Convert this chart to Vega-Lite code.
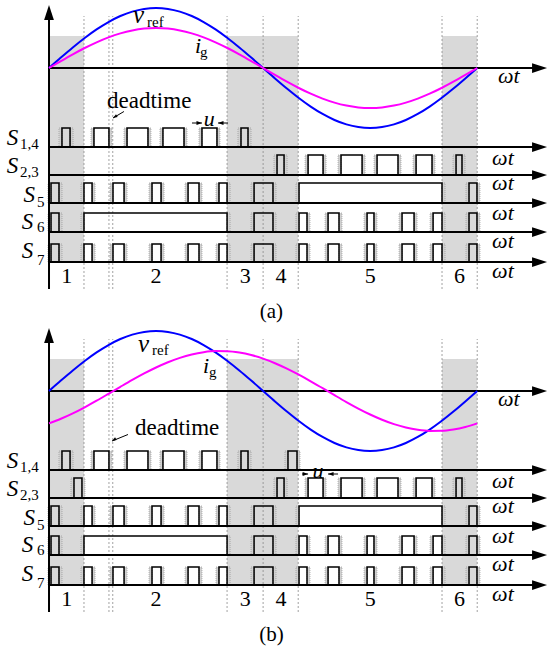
{
"$schema":"https://vega.github.io/schema/vega-lite/v6.json",
"padding":0,"spacing":0,"bounds":"flush",
"background":"white",
"config":{"view":{"stroke":null},"font":"Liberation Serif","text":{"font":"Liberation Serif"}},
"data":{"values":[
{"k":"gray","p":["a","b"],"t0":0,"t1":29.4,"v0":-194,"v1":32},
{"k":"gray","p":["a","b"],"t0":149.7,"t1":209.5,"v0":-194,"v1":32},
{"k":"gray","p":["a","b"],"t0":330.4,"t1":360,"v0":-194,"v1":32},
{"k":"dot","p":["a","b"],"t0":29.4,"v0":-221,"v1":52},
{"k":"dot","p":["a","b"],"t0":50.4,"v0":-221,"v1":52},
{"k":"dot","p":["a","b"],"t0":53.6,"v0":-221,"v1":52},
{"k":"dot","p":["a","b"],"t0":149.7,"v0":-221,"v1":52},
{"k":"dot","p":["a","b"],"t0":180,"v0":-221,"v1":52},
{"k":"dot","p":["a","b"],"t0":209.5,"v0":-221,"v1":52},
{"k":"dot","p":["a","b"],"t0":330.4,"v0":-221,"v1":52},
{"k":"dot","p":["a","b"],"t0":360,"v0":-221,"v1":52},
{"k":"pulse","p":["a","b"],"s":"S14","t0":10.9,"t1":17.7},
{"k":"pulse","p":["a","b"],"s":"S14","t0":37.8,"t1":50.4},
{"k":"pulse","p":["a","b"],"s":"S14","t0":65.6,"t1":83.2},
{"k":"pulse","p":["a","b"],"s":"S14","t0":95.8,"t1":113.5},
{"k":"pulse","p":["a","b"],"s":"S14","t0":128.6,"t1":141.2},
{"k":"pulse","p":["a","b"],"s":"S14","t0":161.4,"t1":167.3},
{"k":"pulse","p":["b"],"s":"S14","t0":200.9,"t1":208.5},
{"k":"pulse","p":["b"],"s":"S23","t0":21.0,"t1":27.7},
{"k":"pulse","p":["a","b"],"s":"S23","t0":191.7,"t1":197.6},
{"k":"pulse","p":["a","b"],"s":"S23","t0":217.8,"t1":230.4},
{"k":"pulse","p":["a","b"],"s":"S23","t0":245.5,"t1":263.2},
{"k":"pulse","p":["a","b"],"s":"S23","t0":275.8,"t1":293.4},
{"k":"pulse","p":["a","b"],"s":"S23","t0":308.6,"t1":322.0},
{"k":"pulse","p":["a","b"],"s":"S23","t0":342.2,"t1":347.2},
{"k":"pulse","p":["a","b"],"s":"S5","t0":1.7,"t1":8.4},
{"k":"pulse","p":["a","b"],"s":"S5","t0":29.4,"t1":36.2},
{"k":"pulse","p":["a","b"],"s":"S5","t0":53.8,"t1":63.1},
{"k":"pulse","p":["a","b"],"s":"S5","t0":86.6,"t1":94.2},
{"k":"pulse","p":["a","b"],"s":"S5","t0":116.9,"t1":126.1},
{"k":"pulse","p":["a","b"],"s":"S5","t0":142.9,"t1":149.7},
{"k":"pulse","p":["a","b"],"s":"S5","t0":172.4,"t1":188.3},
{"k":"pulse","p":["a","b"],"s":"S5","t0":210.2,"t1":330.4},
{"k":"pulse","p":["a","b"],"s":"S5","t0":353.1,"t1":359.8},
{"k":"pulse","p":["a","b"],"s":"S6","t0":1.7,"t1":8.4},
{"k":"pulse","p":["a","b"],"s":"S6","t0":29.4,"t1":149.7},
{"k":"pulse","p":["a","b"],"s":"S6","t0":172.4,"t1":188.3},
{"k":"pulse","p":["a","b"],"s":"S6","t0":210.2,"t1":216.9},
{"k":"pulse","p":["a","b"],"s":"S6","t0":234.6,"t1":243.8},
{"k":"pulse","p":["a","b"],"s":"S6","t0":267.4,"t1":273.2},
{"k":"pulse","p":["a","b"],"s":"S6","t0":296.8,"t1":306.9},
{"k":"pulse","p":["a","b"],"s":"S6","t0":322.9,"t1":330.4},
{"k":"pulse","p":["a","b"],"s":"S6","t0":353.1,"t1":359.8},
{"k":"pulse","p":["a","b"],"s":"S7","t0":1.7,"t1":8.4},
{"k":"pulse","p":["a","b"],"s":"S7","t0":29.4,"t1":36.2},
{"k":"pulse","p":["a","b"],"s":"S7","t0":53.8,"t1":63.1},
{"k":"pulse","p":["a","b"],"s":"S7","t0":86.6,"t1":94.2},
{"k":"pulse","p":["a","b"],"s":"S7","t0":116.9,"t1":126.1},
{"k":"pulse","p":["a","b"],"s":"S7","t0":142.9,"t1":149.7},
{"k":"pulse","p":["a","b"],"s":"S7","t0":172.4,"t1":188.3},
{"k":"pulse","p":["a","b"],"s":"S7","t0":210.2,"t1":216.9},
{"k":"pulse","p":["a","b"],"s":"S7","t0":234.6,"t1":243.8},
{"k":"pulse","p":["a","b"],"s":"S7","t0":267.4,"t1":273.2},
{"k":"pulse","p":["a","b"],"s":"S7","t0":296.8,"t1":306.9},
{"k":"pulse","p":["a","b"],"s":"S7","t0":322.9,"t1":330.4},
{"k":"pulse","p":["a","b"],"s":"S7","t0":353.1,"t1":359.8},
{"k":"ax","p":["a","b"],"t0":0,"t1":0,"v0":-221,"v1":55},
{"k":"ax","p":["a","b"],"t0":0,"t1":412,"v0":0,"v1":0},
{"k":"ax","p":["a","b"],"t0":0,"t1":412,"v0":-79,"v1":-79},
{"k":"ax","p":["a","b"],"t0":0,"t1":412,"v0":-107,"v1":-107},
{"k":"ax","p":["a","b"],"t0":0,"t1":412,"v0":-135,"v1":-135},
{"k":"ax","p":["a","b"],"t0":0,"t1":412,"v0":-164,"v1":-164},
{"k":"ax","p":["a","b"],"t0":0,"t1":412,"v0":-194,"v1":-194},
{"k":"thin","p":["a"],"t0":63.0,"t1":53.8,"v0":-43.5,"v1":-50},
{"k":"thin","p":["b"],"t0":66.4,"t1":53.0,"v0":-43.5,"v1":-50},
{"k":"thin","p":["a"],"t0":120.2,"t1":128.6,"v0":-55,"v1":-55},
{"k":"thin","p":["a"],"t0":150.5,"t1":142.1,"v0":-55,"v1":-55},
{"k":"thin","p":["b"],"t0":212.7,"t1":217.8,"v0":-83,"v1":-83},
{"k":"thin","p":["b"],"t0":243.0,"t1":234.6,"v0":-83,"v1":-83},
{"k":"arr","p":["a","b"],"d":"U","t":0,"v":63},
{"k":"arr","p":["a","b"],"d":"R","t":418.7,"v":0},
{"k":"arr","p":["a","b"],"d":"R","t":418.7,"v":-79},
{"k":"arr","p":["a","b"],"d":"R","t":418.7,"v":-107},
{"k":"arr","p":["a","b"],"d":"R","t":418.7,"v":-135},
{"k":"arr","p":["a","b"],"d":"R","t":418.7,"v":-164},
{"k":"arr","p":["a","b"],"d":"R","t":418.7,"v":-194},
{"k":"arr","p":["a"],"d":"DL","t":53.8,"v":-50},
{"k":"arr","p":["b"],"d":"DL","t":53.0,"v":-50},
{"k":"arr","p":["a"],"d":"Rs","t":128.6,"v":-55},
{"k":"arr","p":["a"],"d":"Ls","t":142.1,"v":-55},
{"k":"arr","p":["b"],"d":"Rs","t":217.8,"v":-83},
{"k":"arr","p":["b"],"d":"Ls","t":234.6,"v":-83},
{"k":"c","p":["a","b"],"s":"vref","t":0,"v":0},{"k":"c","p":["a","b"],"s":"vref","t":10,"v":10.42},{"k":"c","p":["a","b"],"s":"vref","t":20,"v":20.52},{"k":"c","p":["a","b"],"s":"vref","t":30,"v":30},{"k":"c","p":["a","b"],"s":"vref","t":40,"v":38.57},{"k":"c","p":["a","b"],"s":"vref","t":50,"v":45.96},{"k":"c","p":["a","b"],"s":"vref","t":60,"v":51.96},{"k":"c","p":["a","b"],"s":"vref","t":70,"v":56.38},{"k":"c","p":["a","b"],"s":"vref","t":80,"v":59.09},{"k":"c","p":["a","b"],"s":"vref","t":90,"v":60},{"k":"c","p":["a","b"],"s":"vref","t":100,"v":59.09},{"k":"c","p":["a","b"],"s":"vref","t":110,"v":56.38},{"k":"c","p":["a","b"],"s":"vref","t":120,"v":51.96},{"k":"c","p":["a","b"],"s":"vref","t":130,"v":45.96},{"k":"c","p":["a","b"],"s":"vref","t":140,"v":38.57},{"k":"c","p":["a","b"],"s":"vref","t":150,"v":30},{"k":"c","p":["a","b"],"s":"vref","t":160,"v":20.52},{"k":"c","p":["a","b"],"s":"vref","t":170,"v":10.42},{"k":"c","p":["a","b"],"s":"vref","t":180,"v":0},{"k":"c","p":["a","b"],"s":"vref","t":190,"v":-10.42},{"k":"c","p":["a","b"],"s":"vref","t":200,"v":-20.52},{"k":"c","p":["a","b"],"s":"vref","t":210,"v":-30},{"k":"c","p":["a","b"],"s":"vref","t":220,"v":-38.57},{"k":"c","p":["a","b"],"s":"vref","t":230,"v":-45.96},{"k":"c","p":["a","b"],"s":"vref","t":240,"v":-51.96},{"k":"c","p":["a","b"],"s":"vref","t":250,"v":-56.38},{"k":"c","p":["a","b"],"s":"vref","t":260,"v":-59.09},{"k":"c","p":["a","b"],"s":"vref","t":270,"v":-60},{"k":"c","p":["a","b"],"s":"vref","t":280,"v":-59.09},{"k":"c","p":["a","b"],"s":"vref","t":290,"v":-56.38},{"k":"c","p":["a","b"],"s":"vref","t":300,"v":-51.96},{"k":"c","p":["a","b"],"s":"vref","t":310,"v":-45.96},{"k":"c","p":["a","b"],"s":"vref","t":320,"v":-38.57},{"k":"c","p":["a","b"],"s":"vref","t":330,"v":-30},{"k":"c","p":["a","b"],"s":"vref","t":340,"v":-20.52},{"k":"c","p":["a","b"],"s":"vref","t":350,"v":-10.42},{"k":"c","p":["a","b"],"s":"vref","t":360,"v":0},
{"k":"c","p":["a"],"s":"ig","t":0,"v":0},{"k":"c","p":["a"],"s":"ig","t":10,"v":6.95},{"k":"c","p":["a"],"s":"ig","t":20,"v":13.68},{"k":"c","p":["a"],"s":"ig","t":30,"v":20},{"k":"c","p":["a"],"s":"ig","t":40,"v":25.71},{"k":"c","p":["a"],"s":"ig","t":50,"v":30.64},{"k":"c","p":["a"],"s":"ig","t":60,"v":34.64},{"k":"c","p":["a"],"s":"ig","t":70,"v":37.59},{"k":"c","p":["a"],"s":"ig","t":80,"v":39.39},{"k":"c","p":["a"],"s":"ig","t":90,"v":40},{"k":"c","p":["a"],"s":"ig","t":100,"v":39.39},{"k":"c","p":["a"],"s":"ig","t":110,"v":37.59},{"k":"c","p":["a"],"s":"ig","t":120,"v":34.64},{"k":"c","p":["a"],"s":"ig","t":130,"v":30.64},{"k":"c","p":["a"],"s":"ig","t":140,"v":25.71},{"k":"c","p":["a"],"s":"ig","t":150,"v":20},{"k":"c","p":["a"],"s":"ig","t":160,"v":13.68},{"k":"c","p":["a"],"s":"ig","t":170,"v":6.95},{"k":"c","p":["a"],"s":"ig","t":180,"v":0},{"k":"c","p":["a"],"s":"ig","t":190,"v":-6.95},{"k":"c","p":["a"],"s":"ig","t":200,"v":-13.68},{"k":"c","p":["a"],"s":"ig","t":210,"v":-20},{"k":"c","p":["a"],"s":"ig","t":220,"v":-25.71},{"k":"c","p":["a"],"s":"ig","t":230,"v":-30.64},{"k":"c","p":["a"],"s":"ig","t":240,"v":-34.64},{"k":"c","p":["a"],"s":"ig","t":250,"v":-37.59},{"k":"c","p":["a"],"s":"ig","t":260,"v":-39.39},{"k":"c","p":["a"],"s":"ig","t":270,"v":-40},{"k":"c","p":["a"],"s":"ig","t":280,"v":-39.39},{"k":"c","p":["a"],"s":"ig","t":290,"v":-37.59},{"k":"c","p":["a"],"s":"ig","t":300,"v":-34.64},{"k":"c","p":["a"],"s":"ig","t":310,"v":-30.64},{"k":"c","p":["a"],"s":"ig","t":320,"v":-25.71},{"k":"c","p":["a"],"s":"ig","t":330,"v":-20},{"k":"c","p":["a"],"s":"ig","t":340,"v":-13.68},{"k":"c","p":["a"],"s":"ig","t":350,"v":-6.95},{"k":"c","p":["a"],"s":"ig","t":360,"v":0},
{"k":"c","p":["b"],"s":"ig","t":0,"v":-32.36},{"k":"c","p":["b"],"s":"ig","t":10,"v":-27.79},{"k":"c","p":["b"],"s":"ig","t":20,"v":-22.37},{"k":"c","p":["b"],"s":"ig","t":30,"v":-16.27},{"k":"c","p":["b"],"s":"ig","t":40,"v":-9.68},{"k":"c","p":["b"],"s":"ig","t":50,"v":-2.79},{"k":"c","p":["b"],"s":"ig","t":60,"v":4.18},{"k":"c","p":["b"],"s":"ig","t":70,"v":11.03},{"k":"c","p":["b"],"s":"ig","t":80,"v":17.54},{"k":"c","p":["b"],"s":"ig","t":90,"v":23.51},{"k":"c","p":["b"],"s":"ig","t":100,"v":28.77},{"k":"c","p":["b"],"s":"ig","t":110,"v":33.16},{"k":"c","p":["b"],"s":"ig","t":120,"v":36.54},{"k":"c","p":["b"],"s":"ig","t":130,"v":38.81},{"k":"c","p":["b"],"s":"ig","t":140,"v":39.9},{"k":"c","p":["b"],"s":"ig","t":150,"v":39.78},{"k":"c","p":["b"],"s":"ig","t":160,"v":38.45},{"k":"c","p":["b"],"s":"ig","t":170,"v":35.95},{"k":"c","p":["b"],"s":"ig","t":180,"v":32.36},{"k":"c","p":["b"],"s":"ig","t":190,"v":27.79},{"k":"c","p":["b"],"s":"ig","t":200,"v":22.37},{"k":"c","p":["b"],"s":"ig","t":210,"v":16.27},{"k":"c","p":["b"],"s":"ig","t":220,"v":9.68},{"k":"c","p":["b"],"s":"ig","t":230,"v":2.79},{"k":"c","p":["b"],"s":"ig","t":240,"v":-4.18},{"k":"c","p":["b"],"s":"ig","t":250,"v":-11.03},{"k":"c","p":["b"],"s":"ig","t":260,"v":-17.54},{"k":"c","p":["b"],"s":"ig","t":270,"v":-23.51},{"k":"c","p":["b"],"s":"ig","t":280,"v":-28.77},{"k":"c","p":["b"],"s":"ig","t":290,"v":-33.16},{"k":"c","p":["b"],"s":"ig","t":300,"v":-36.54},{"k":"c","p":["b"],"s":"ig","t":310,"v":-38.81},{"k":"c","p":["b"],"s":"ig","t":320,"v":-39.9},{"k":"c","p":["b"],"s":"ig","t":330,"v":-39.78},{"k":"c","p":["b"],"s":"ig","t":340,"v":-38.45},{"k":"c","p":["b"],"s":"ig","t":350,"v":-35.95},{"k":"c","p":["b"],"s":"ig","t":360,"v":-32.36},
{"k":"ti","p":["a","b"],"r":"S","txt":"S","t":-35.5,"v":-77},
{"k":"ti","p":["a","b"],"r":"S","txt":"S","t":-35.5,"v":-105},
{"k":"ti","p":["a","b"],"r":"S","txt":"S","t":-21.5,"v":-134},
{"k":"ti","p":["a","b"],"r":"S","txt":"S","t":-23,"v":-161},
{"k":"ti","p":["a","b"],"r":"S","txt":"S","t":-23,"v":-190},
{"k":"ti","p":["a","b"],"r":"wt","txt":"ωt","t":377.5,"v":-15},
{"k":"ti","p":["a","b"],"r":"wt","txt":"ωt","t":372.5,"v":-97},
{"k":"ti","p":["a","b"],"r":"wt","txt":"ωt","t":372.5,"v":-122},
{"k":"ti","p":["a","b"],"r":"wt","txt":"ωt","t":372.5,"v":-152},
{"k":"ti","p":["a","b"],"r":"wt","txt":"ωt","t":372.5,"v":-180},
{"k":"ti","p":["a","b"],"r":"wt","txt":"ωt","t":372.5,"v":-210},
{"k":"ti","p":["a"],"r":"v","txt":"v","t":70.6,"v":45},
{"k":"ti","p":["a"],"r":"i","txt":"i","t":122.7,"v":15},
{"k":"ti","p":["a"],"r":"i","txt":"u","t":130,"v":-58},
{"k":"ti","p":["b"],"r":"v","txt":"v","t":74.8,"v":39},
{"k":"ti","p":["b"],"r":"i","txt":"i","t":129.5,"v":18},
{"k":"ti","p":["b"],"r":"i","txt":"u","t":221.5,"v":-87},
{"k":"tu","p":["a","b"],"r":"sub","txt":"1,4","t":-24.4,"v":-81},
{"k":"tu","p":["a","b"],"r":"sub","txt":"2,3","t":-24.4,"v":-109},
{"k":"tu","p":["a","b"],"r":"sub","txt":"5","t":-10.1,"v":-139},
{"k":"tu","p":["a","b"],"r":"sub","txt":"6","t":-10.1,"v":-164},
{"k":"tu","p":["a","b"],"r":"sub","txt":"7","t":-10.1,"v":-197},
{"k":"tu","p":["a"],"r":"sub","txt":"ref","t":82.4,"v":41},
{"k":"tu","p":["a"],"r":"sub","txt":"g","t":127,"v":11},
{"k":"tu","p":["a"],"r":"note","txt":"deadtime","t":48.8,"v":-40},
{"k":"tu","p":["b"],"r":"sub","txt":"ref","t":86.6,"v":36},
{"k":"tu","p":["b"],"r":"sub","txt":"g","t":134.5,"v":14},
{"k":"tu","p":["b"],"r":"note","txt":"deadtime","t":72.3,"v":-44},
{"k":"tc","p":["a","b"],"r":"num","txt":"1","t":15,"v":-215},
{"k":"tc","p":["a","b"],"r":"num","txt":"2","t":90,"v":-215},
{"k":"tc","p":["a","b"],"r":"num","txt":"3","t":165,"v":-215},
{"k":"tc","p":["a","b"],"r":"num","txt":"4","t":195,"v":-215},
{"k":"tc","p":["a","b"],"r":"num","txt":"5","t":270,"v":-215},
{"k":"tc","p":["a","b"],"r":"num","txt":"6","t":345,"v":-215},
{"k":"tc","p":["a"],"r":"cap","txt":"(a)","t":187,"v":-250},
{"k":"tc","p":["b"],"r":"cap","txt":"(b)","t":187,"v":-250}
]},
"transform":[
{"flatten":["p"]},
{"lookup":"s","from":{"data":{"values":[
{"s":"S14","lo":-79,"hi":-60},{"s":"S23","lo":-107,"hi":-87},{"s":"S5","lo":-135,"hi":-115},{"s":"S6","lo":-164,"hi":-145},{"s":"S7","lo":-194,"hi":-176}]},"key":"s","fields":["lo","hi"]}}
],
"facet":{"row":{"field":"p","type":"nominal","header":null}},
"spec":{
"width":548,"height":323,
"resolve":{"scale":{"size":"independent","shape":"independent"}},
"encoding":{
 "x":{"field":"t","type":"quantitative","scale":{"domain":[-41.2,419.5],"nice":false,"zero":false},"axis":null},
 "y":{"field":"v","type":"quantitative","scale":{"domain":[-255,68],"nice":false,"zero":false},"axis":null}},
"layer":[
{"transform":[{"filter":"datum.k=='gray'"}],"mark":{"type":"rect","color":"#d9d9d9"},
 "encoding":{"x":{"field":"t0","type":"quantitative","scale":{"domain":[-41.2,419.5],"nice":false,"zero":false},"axis":null},"x2":{"field":"t1"},
 "y":{"field":"v0","type":"quantitative","scale":{"domain":[-255,68],"nice":false,"zero":false},"axis":null},"y2":{"field":"v1"}}},
{"transform":[{"filter":"datum.k=='dot'"}],"mark":{"type":"rule","color":"#8a8a8a","strokeWidth":0.8,"strokeDash":[2,2]},
 "encoding":{"x":{"field":"t0","type":"quantitative","scale":{"domain":[-41.2,419.5],"nice":false,"zero":false},"axis":null},
 "y":{"field":"v0","type":"quantitative","scale":{"domain":[-255,68],"nice":false,"zero":false},"axis":null},"y2":{"field":"v1"}}},
{"transform":[{"filter":"datum.k=='pulse'"}],"mark":{"type":"rect","fill":"#d0d0d0","stroke":"#8c8c8c","strokeWidth":0.6,"strokeDash":[1,1],"xOffset":-3,"x2Offset":0},
 "encoding":{"x":{"field":"t0","type":"quantitative","scale":{"domain":[-41.2,419.5],"nice":false,"zero":false},"axis":null},"x2":{"field":"t0"},
 "y":{"field":"lo","type":"quantitative","scale":{"domain":[-255,68],"nice":false,"zero":false},"axis":null},"y2":{"field":"hi"}}},
{"transform":[{"filter":"datum.k=='pulse'"}],"mark":{"type":"rect","fill":"#d0d0d0","stroke":"#8c8c8c","strokeWidth":0.6,"strokeDash":[1,1],"xOffset":0,"x2Offset":3},
 "encoding":{"x":{"field":"t1","type":"quantitative","scale":{"domain":[-41.2,419.5],"nice":false,"zero":false},"axis":null},"x2":{"field":"t1"},
 "y":{"field":"lo","type":"quantitative","scale":{"domain":[-255,68],"nice":false,"zero":false},"axis":null},"y2":{"field":"hi"}}},
{"transform":[{"filter":"datum.k=='pulse'"}],"mark":{"type":"rect","fill":"white","fillOpacity":0,"stroke":"black","strokeWidth":1.5},
 "encoding":{"x":{"field":"t0","type":"quantitative","scale":{"domain":[-41.2,419.5],"nice":false,"zero":false},"axis":null},"x2":{"field":"t1"},
 "y":{"field":"lo","type":"quantitative","scale":{"domain":[-255,68],"nice":false,"zero":false},"axis":null},"y2":{"field":"hi"}}},
{"transform":[{"filter":"datum.k=='ax'"}],"mark":{"type":"rule","color":"black","strokeWidth":2},
 "encoding":{"x":{"field":"t0","type":"quantitative","scale":{"domain":[-41.2,419.5],"nice":false,"zero":false},"axis":null},"x2":{"field":"t1"},
 "y":{"field":"v0","type":"quantitative","scale":{"domain":[-255,68],"nice":false,"zero":false},"axis":null},"y2":{"field":"v1"}}},
{"transform":[{"filter":"datum.k=='thin'"}],"mark":{"type":"rule","color":"black","strokeWidth":1},
 "encoding":{"x":{"field":"t0","type":"quantitative","scale":{"domain":[-41.2,419.5],"nice":false,"zero":false},"axis":null},"x2":{"field":"t1"},
 "y":{"field":"v0","type":"quantitative","scale":{"domain":[-255,68],"nice":false,"zero":false},"axis":null},"y2":{"field":"v1"}}},
{"transform":[{"filter":"datum.k=='c'"}],"mark":{"type":"line","strokeWidth":2,"interpolate":"monotone"},
 "encoding":{
 "color":{"field":"s","type":"nominal","scale":{"domain":["vref","ig"],"range":["#0000ff","#ff00ff"]},"legend":null},
 "detail":{"field":"s"}}},
{"transform":[{"filter":"datum.k=='arr'"}],"mark":{"type":"point","filled":true,"color":"black","opacity":1,"strokeWidth":0},
 "encoding":{
 "shape":{"field":"d","type":"nominal","scale":{"domain":["U","R","Rs","Ls","DL"],"range":["M0,0L-0.65,2L0.65,2Z","M0,0L-2,-0.65L-2,0.65Z","M0,0L-2,-0.7L-2,0.7Z","M0,0L2,-0.7L2,0.7Z","M0,0L2.07,-0.43L1.35,-1.63Z"]},"legend":null},
 "size":{"field":"d","type":"nominal","scale":{"type":"ordinal","domain":["U","R","Rs","Ls","DL"],"range":[225,225,30,30,20]},"legend":null}}},
{"transform":[{"filter":"datum.r=='S'"}],"mark":{"type":"text","font":"Liberation Serif","fontStyle":"italic","fontSize":23,"align":"left","baseline":"alphabetic","color":"black"},"encoding":{"text":{"field":"txt"}}},
{"transform":[{"filter":"datum.r=='wt'"}],"mark":{"type":"text","font":"Liberation Serif","fontStyle":"italic","fontSize":22,"align":"left","baseline":"alphabetic","color":"black"},"encoding":{"text":{"field":"txt"}}},
{"transform":[{"filter":"datum.r=='v'"}],"mark":{"type":"text","font":"Liberation Serif","fontStyle":"italic","fontSize":25,"align":"left","baseline":"alphabetic","color":"black"},"encoding":{"text":{"field":"txt"}}},
{"transform":[{"filter":"datum.r=='i'"}],"mark":{"type":"text","font":"Liberation Serif","fontStyle":"italic","fontSize":22,"align":"left","baseline":"alphabetic","color":"black"},"encoding":{"text":{"field":"txt"}}},
{"transform":[{"filter":"datum.r=='sub'"}],"mark":{"type":"text","font":"Liberation Serif","fontSize":15,"align":"left","baseline":"alphabetic","color":"black"},"encoding":{"text":{"field":"txt"}}},
{"transform":[{"filter":"datum.r=='note'"}],"mark":{"type":"text","font":"Liberation Serif","fontSize":23,"align":"left","baseline":"alphabetic","color":"black"},"encoding":{"text":{"field":"txt"}}},
{"transform":[{"filter":"datum.r=='num'"}],"mark":{"type":"text","font":"Liberation Serif","fontSize":22,"align":"center","baseline":"alphabetic","color":"black"},"encoding":{"text":{"field":"txt"}}},
{"transform":[{"filter":"datum.r=='cap'"}],"mark":{"type":"text","font":"Liberation Serif","fontSize":21,"align":"center","baseline":"alphabetic","color":"black"},"encoding":{"text":{"field":"txt"}}}
]}
}
